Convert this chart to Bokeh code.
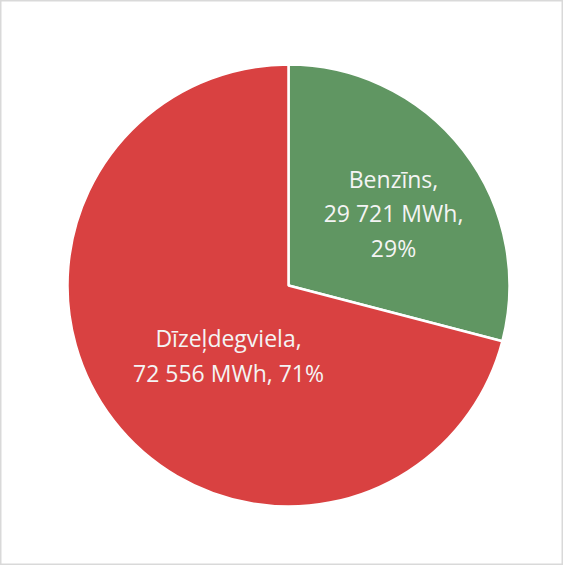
import math
from bokeh.plotting import figure
from bokeh.models import Range1d, ColumnDataSource
from bokeh.core.properties import value
from bokeh.embed import file_html
from bokeh.resources import INLINE

# ---- data ----
categories = ["Benzīns", "Dīzeļdegviela"]
energy_mwh = [29721, 72556]
energy_labels = ["29 721 MWh", "72 556 MWh"]
colors = ["#609662", "#d94141"]

# ---- layout (pixel-like data space) ----
W, H = 563, 565
cx, cy = 288, 280      # pie centre in plot coords
R = 221

total = sum(energy_mwh)
shares = [v / total for v in energy_mwh]

# slices go clockwise from 12 o'clock
starts, ends = [], []
a = math.pi / 2
for s in shares:
    b = a - 2 * math.pi * s
    starts.append(b)
    ends.append(a)
    a = b

src = ColumnDataSource(dict(start=starts, end=ends, color=colors,
                            cat=categories))

p = figure(width=W, height=H, output_backend="svg", toolbar_location=None,
           x_range=Range1d(0, W), y_range=Range1d(0, H),
           min_border=0)
p.axis.visible = False
p.grid.visible = False
p.outline_line_color = "#d9d9d9"
p.outline_line_width = 2
p.background_fill_color = "white"

p.wedge(x=cx, y=cy, radius=R, start_angle="start", end_angle="end",
        direction="anticlock", fill_color="color", line_color="white",
        line_width=2.5, source=src)

pct = [f"{round(s * 100)}%" for s in shares]
label_texts = [
    f"{categories[0]},\n{energy_labels[0]},\n{pct[0]}",
    f"{categories[1]},\n{energy_labels[1]}, {pct[1]}",
]
# label anchor offsets from the pie centre (layout)
lab_x = [cx + 105, cx - 60]
lab_y = [cy + 72, cy - 70]

p.text(x=lab_x, y=lab_y, text=label_texts, text_align="center",
       text_baseline="middle", text_color="#f4f4f4",
       text_font=value("Open Sans"), text_font_size="23px",
       text_line_height=1.07)

open("out.html", "w").write(file_html(p, INLINE))
